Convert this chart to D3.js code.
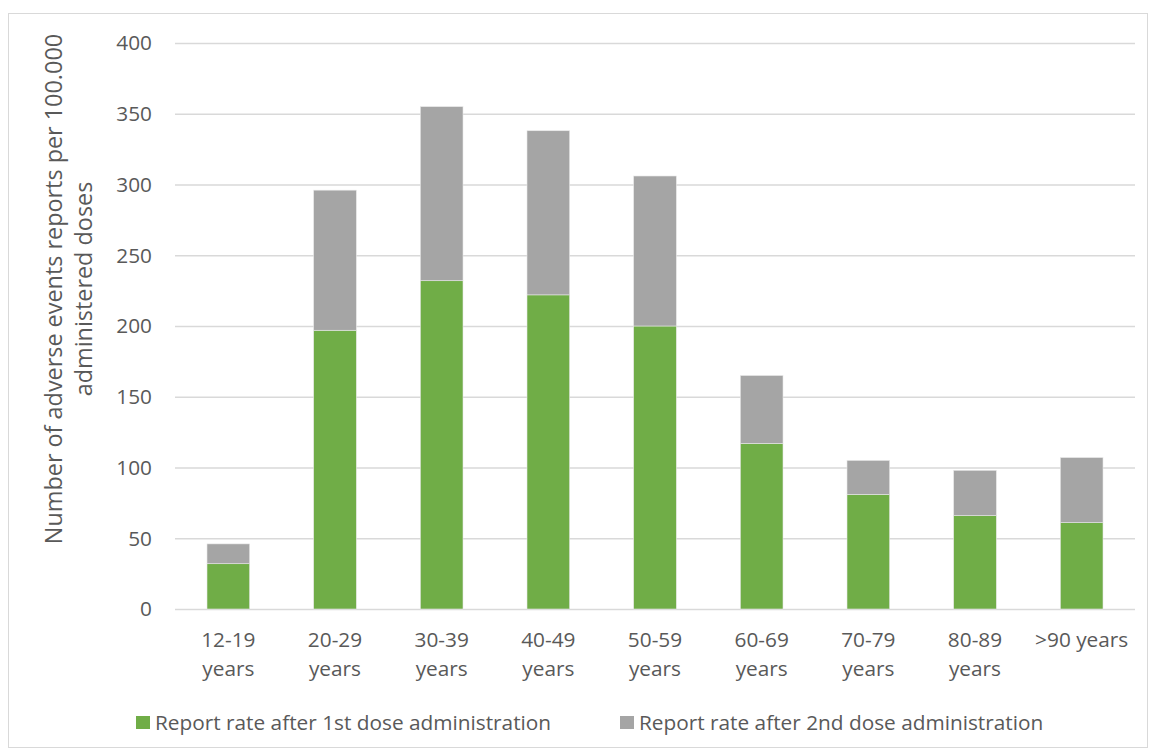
<!DOCTYPE html>
<html>
<head>
<meta charset="utf-8">
<script src="https://cdn.jsdelivr.net/npm/d3@7"></script>
<style>
  body { margin: 0; background: #fff; }
  text { font-family: "Open Sans", Lato, sans-serif; fill: #595959; }
</style>
</head>
<body>
<div id="chart"></div>
<script>
// age groups and report rates per 100.000 administered doses
const categories = ['12-19 years', '20-29 years', '30-39 years', '40-49 years', '50-59 years',
  '60-69 years', '70-79 years', '80-89 years', '>90 years'];
const firstDose = [32, 197, 232, 222, 200, 117, 81, 66, 61];
const secondDose = [14, 99, 123, 116, 106, 48, 24, 32, 46];
const yTicks = [0, 50, 100, 150, 200, 250, 300, 350, 400];
const seriesNames = ['Report rate after 1st dose administration', 'Report rate after 2nd dose administration'];
const colors = ['#70ad47', '#a5a5a5'];

const width = 1150;
const height = 756;
const margin = {top: 43, right: 15, bottom: 147, left: 175};
const fontSize = '20.8px';

const svg = d3.select('#chart')
  .append('svg')
  .attr('width', width)
  .attr('height', height);

svg.append('rect')
  .attr('x', 8.5).attr('y', 13.5)
  .attr('width', width - 11).attr('height', height - 22)
  .attr('fill', 'none')
  .attr('stroke', '#d9d9d9');

const x = d3.scaleBand()
  .domain(categories)
  .range([margin.left, width - margin.right])
  .paddingInner(0.6)
  .paddingOuter(0.3);

const y = d3.scaleLinear()
  .domain([0, 400])
  .range([height - margin.bottom, margin.top]);

// gridlines
svg.append('g')
  .selectAll('line')
  .data(yTicks)
  .enter().append('line')
  .attr('x1', margin.left)
  .attr('x2', width - margin.right)
  .attr('y1', d => y(d) + 0.5)
  .attr('y2', d => y(d) + 0.5)
  .attr('stroke', '#d9d9d9')
  .attr('stroke-width', 1.5);

// y tick labels
svg.append('g')
  .selectAll('text')
  .data(yTicks)
  .enter().append('text')
  .attr('x', 152)
  .attr('y', d => y(d))
  .attr('dy', '0.36em')
  .attr('text-anchor', 'end')
  .style('font-size', fontSize)
  .text(d => d);

// stacked bars
const stackData = categories.map((c, i) => ({cat: c, s0: firstDose[i], s1: secondDose[i]}));
const stack = d3.stack().keys(['s0', 's1'])(stackData);

svg.append('g')
  .selectAll('g')
  .data(stack)
  .enter().append('g')
  .attr('fill', (d, i) => colors[i])
  .selectAll('rect')
  .data(d => d)
  .enter().append('rect')
  .attr('x', d => x(d.data.cat))
  .attr('width', x.bandwidth())
  .attr('y', d => y(d[1]))
  .attr('height', d => y(d[0]) - y(d[1]))
  .attr('stroke', '#e8e8e8')
  .attr('stroke-width', 0.6);

// x labels, wrapped the way the original does
const xLabels = svg.append('g')
  .selectAll('text')
  .data(categories)
  .enter().append('text')
  .attr('x', d => x(d) + x.bandwidth() / 2)
  .attr('y', 647)
  .attr('text-anchor', 'middle')
  .style('font-size', fontSize);

xLabels.each(function(d) {
  const parts = d.startsWith('>') ? [d] : d.split(' ');
  const t = d3.select(this);
  parts.forEach((p, i) => {
    t.append('tspan')
      .attr('x', x(d) + x.bandwidth() / 2)
      .attr('dy', i === 0 ? 0 : 29)
      .text(p);
  });
});

// y axis title
const titleLines = ['Number of adverse events reports per 100.000', 'administered doses'];
svg.append('g')
  .selectAll('text')
  .data(titleLines)
  .enter().append('text')
  .attr('transform', (d, i) => `translate(${62 + i * 30},289) rotate(-90)`)
  .attr('text-anchor', 'middle')
  .style('font-size', '23.4px')
  .text(d => d);

// legend
const legendX = [136, 620];
const legend = svg.append('g')
  .selectAll('g')
  .data(seriesNames)
  .enter().append('g')
  .attr('transform', (d, i) => `translate(${legendX[i]},722)`);

legend.append('rect')
  .attr('x', 0).attr('y', -6)
  .attr('width', 14).attr('height', 13)
  .attr('fill', (d, i) => colors[i]);

legend.append('text')
  .attr('x', 19)
  .attr('y', 0)
  .attr('dy', '0.36em')
  .style('font-size', fontSize)
  .text(d => d);
</script>
</body>
</html>
